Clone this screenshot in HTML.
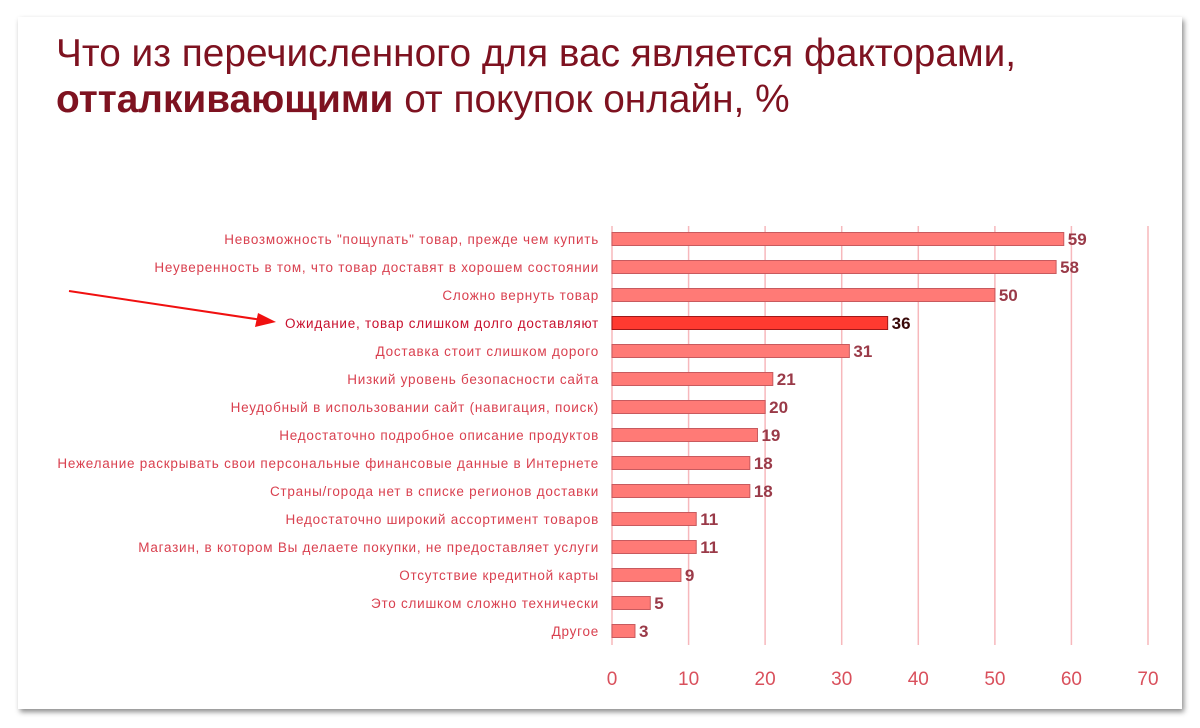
<!DOCTYPE html>
<html><head><meta charset="utf-8"><style>
body{margin:0;width:1200px;height:728px;background:#fff;overflow:hidden;font-family:"Liberation Sans",sans-serif}
.card{position:absolute;left:18px;top:17px;width:1164px;height:692px;background:#fff;box-shadow:2px 3px 5px rgba(0,0,0,.45)}
.t{position:absolute;left:56px;color:#7e1220;font-size:38.8px;white-space:nowrap}
</style></head><body>
<div class="card"></div>
<div class="t" style="top:32px">Что из перечисленного для вас является факторами,</div>
<div class="t" style="top:78px"><b>отталкивающими</b> от покупок онлайн, %</div>
<svg width="1200" height="728" style="position:absolute;left:0;top:0">
<g stroke="#f7b8bc" stroke-width="1.5">
<line x1="612" y1="226" x2="612" y2="645"/><line x1="688.6" y1="226" x2="688.6" y2="645"/><line x1="765.1" y1="226" x2="765.1" y2="645"/><line x1="841.7" y1="226" x2="841.7" y2="645"/><line x1="918.3" y1="226" x2="918.3" y2="645"/><line x1="994.9" y1="226" x2="994.9" y2="645"/><line x1="1071.4" y1="226" x2="1071.4" y2="645"/><line x1="1148" y1="226" x2="1148" y2="645"/>
</g>
<g font-size="19" fill="#d9505c" text-anchor="middle">
<text x="612" y="685">0</text><text x="688.6" y="685">10</text><text x="765.1" y="685">20</text><text x="841.7" y="685">30</text><text x="918.3" y="685">40</text><text x="994.9" y="685">50</text><text x="1071.4" y="685">60</text><text x="1148" y="685">70</text>
</g>
<g id="bars" font-size="13.5" letter-spacing="0.75" text-anchor="end" fill="#d9404f"></g>
<line x1="69" y1="291" x2="262" y2="320" stroke="#f01010" stroke-width="2"/>
<polygon points="276,322 258,313 255,327" fill="#f01010"/>
</svg>
<script>
var d=[["Невозможность \"пощупать\" товар, прежде чем купить",59],["Неуверенность в том, что товар доставят в хорошем состоянии",58],["Сложно вернуть товар",50],["Ожидание, товар слишком долго доставляют",36],["Доставка стоит слишком дорого",31],["Низкий уровень безопасности сайта",21],["Неудобный в использовании сайт (навигация, поиск)",20],["Недостаточно подробное описание продуктов",19],["Нежелание раскрывать свои персональные финансовые данные в Интернете",18],["Страны/города нет в списке регионов доставки",18],["Недостаточно широкий ассортимент товаров",11],["Магазин, в котором Вы делаете покупки, не предоставляет услуги",11],["Отсутствие кредитной карты",9],["Это слишком сложно технически",5],["Другое",3]];
var s="";d.forEach(function(r,i){var y=239+i*28,w=r[1]*7.657,h=i==3;
s+='<text x="599" y="'+(y+5)+'" fill="'+(h?'#c8102e':'#d9404f')+'">'+r[0].replace(/"/g,'&quot;')+'</text>';
s+='<rect x="612" y="'+(y-6.5)+'" width="'+w+'" height="13" fill="'+(h?'#ff3a30':'#ff7a76')+'" stroke="'+(h?'#a01818':'#c85a5e')+'" stroke-width="1"/>';
s+='<text x="'+(616+w)+'" y="'+(y+6)+'" text-anchor="start" letter-spacing="0" font-size="17" font-weight="bold" fill="'+(h?'#3a0a0a':'#9a3a48')+'">'+r[1]+'</text>';});
document.getElementById("bars").innerHTML=s;
</script>
</body></html>
